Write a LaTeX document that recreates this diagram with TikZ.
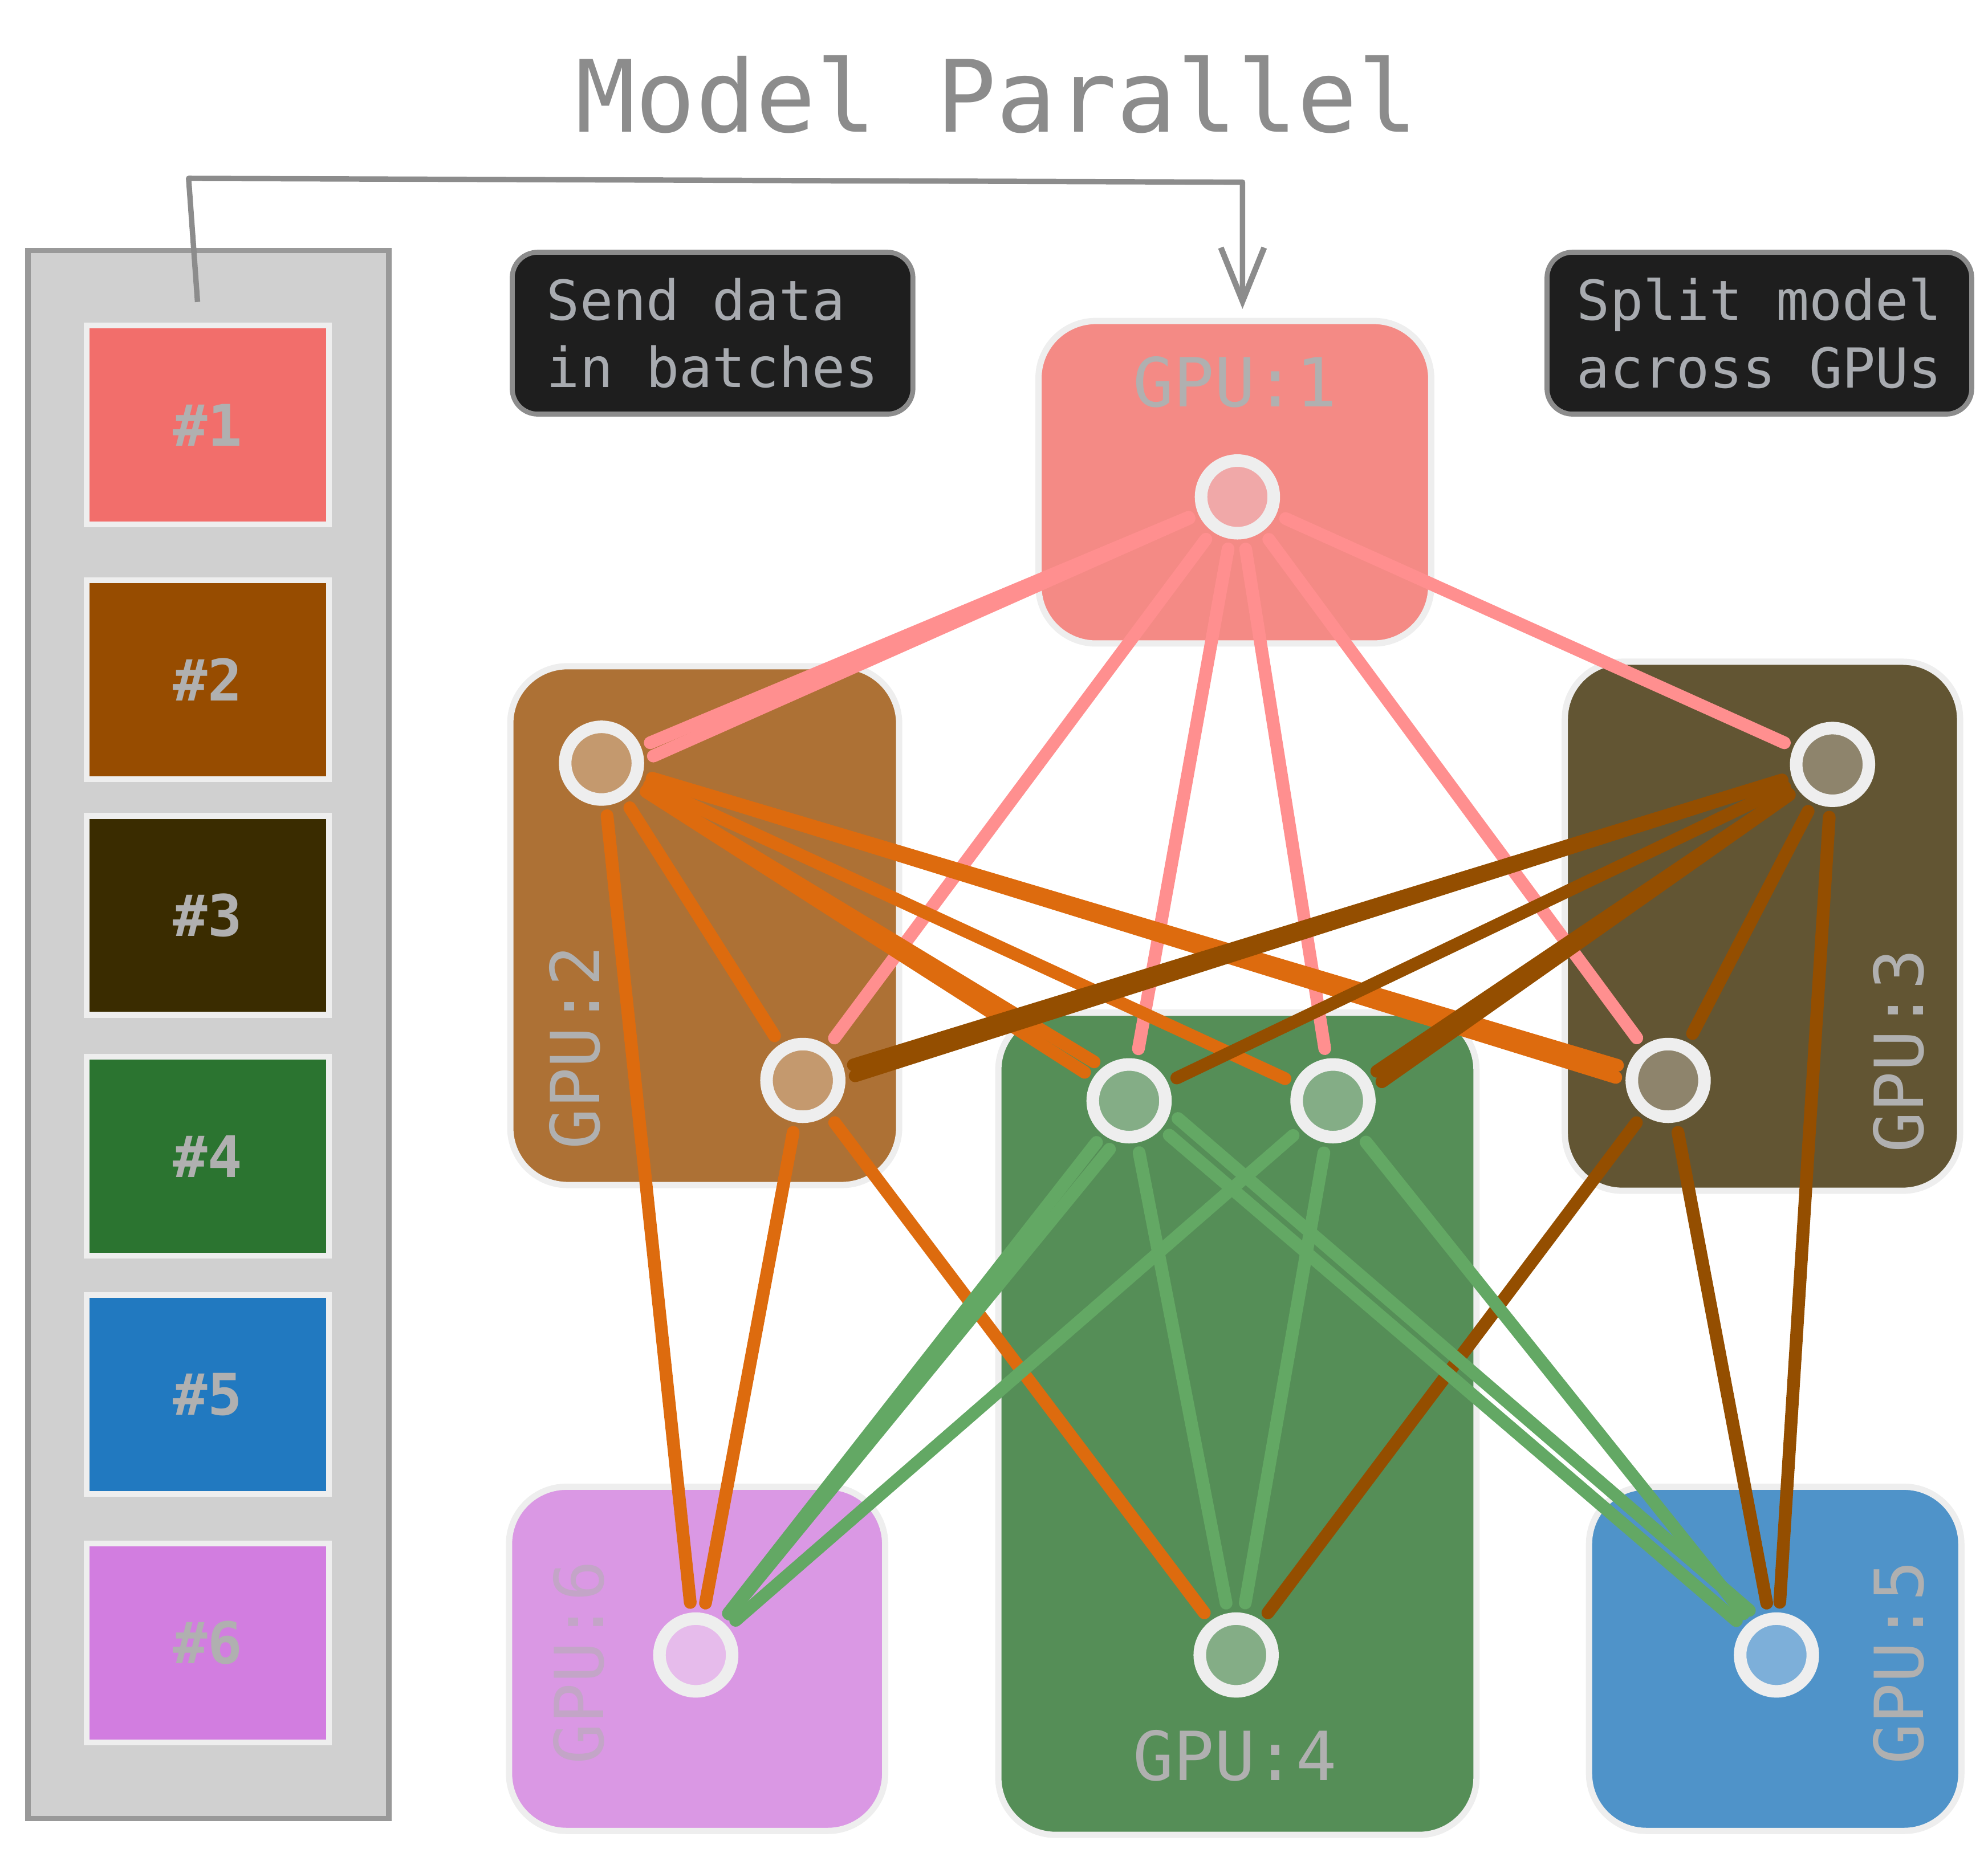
\documentclass[tikz,border=0pt]{standalone}
\usepackage{fontspec}
\setmonofont{DejaVu Sans Mono}
\usetikzlibrary{arrows.meta,calc}
\definecolor{bord}{HTML}{EEEEEE}
\definecolor{gpuA}{HTML}{F48A85}
\definecolor{gpuB}{HTML}{AD7135}
\definecolor{gpuC}{HTML}{625533}
\definecolor{gpuD}{HTML}{558E57}
\definecolor{gpuE}{HTML}{4F93C9}
\definecolor{gpuF}{HTML}{DA98E4}
\definecolor{nA}{HTML}{F0A8A8}
\definecolor{nB}{HTML}{C4996E}
\definecolor{nC}{HTML}{8E846C}
\definecolor{nD}{HTML}{84AD86}
\definecolor{nE}{HTML}{7DAFD9}
\definecolor{nF}{HTML}{E6BBEB}
\definecolor{eA}{HTML}{FF8F8F}
\definecolor{eB}{HTML}{DD6B0E}
\definecolor{eC}{HTML}{944E00}
\definecolor{eD}{HTML}{63A864}
\definecolor{dA}{HTML}{F26E6B}
\definecolor{dB}{HTML}{974C00}
\definecolor{dC}{HTML}{3A2C00}
\definecolor{dD}{HTML}{2B7430}
\definecolor{dE}{HTML}{2179C0}
\definecolor{dF}{HTML}{D27DE0}
\definecolor{titlegray}{HTML}{8C8C8C}
\definecolor{lblgray}{HTML}{B0B0B0}
\definecolor{txtgray}{HTML}{A8ABB0}
\definecolor{boxdark}{HTML}{1E1E1E}
\definecolor{panelfill}{HTML}{D0D0D0}
\definecolor{panelline}{HTML}{999999}
\tikzset{
  gpubox/.style={draw=bord, line width=1.4pt, rounded corners=0.45cm, inner sep=0},
  unit/.style={circle, draw=bord, line width=2.8pt, minimum size=0.57cm, inner sep=0},
  link/.style={line width=0.1cm, line cap=round, shorten <=0.08cm, shorten >=0.08cm},
  gpulbl/.style={font=\ttfamily\fontsize{15.1}{18}\selectfont, text=lblgray, inner sep=0},
  databox/.style={draw=bord, line width=1.3pt, minimum width=1.9cm, minimum height=1.56cm, inner sep=0,
     font=\ttfamily\bfseries\fontsize{12.8}{15}\selectfont, text=lblgray},
  notebox/.style={fill=boxdark, draw=titlegray, line width=1.1pt, rounded corners=0.2cm, anchor=west,
     align=left, inner ysep=0.12cm, minimum height=1.27cm,
     font=\ttfamily\fontsize{12.3}{15.1}\selectfont, text=txtgray}
}
\begin{document}
\begin{tikzpicture}[x=0.01cm, y=-0.01cm]
\useasboundingbox (0,0) rectangle (1560,1454);
% title
\node[font=\ttfamily\fontsize{22.3}{26}\selectfont, text=titlegray, inner sep=0] (title) at (782,74) {Model Parallel};
% data panel
\node[fill=panelfill, draw=panelline, line width=1.2pt, minimum width=2.83cm, minimum height=12.3cm, inner sep=0] (panel) at (163.5,812) {};
\node[databox, fill=dA] (d1) at (163,333.5) {\#1};
\node[databox, fill=dB] (d2) at (163,533.5) {\#2};
\node[databox, fill=dC] (d3) at (163,718.5) {\#3};
\node[databox, fill=dD] (d4) at (163,907.5) {\#4};
\node[databox, fill=dE] (d5) at (163,1094.5) {\#5};
\node[databox, fill=dF] (d6) at (163,1289.5) {\#6};
% notes
\node[notebox, inner xsep=0.27cm] (note1) at (400,261.5) {Send data\\in batches};
\node[notebox, inner xsep=0.234cm] (note2) at (1212,261.5) {Split model\\across GPUs};
% GPU boxes
\node[gpubox, fill=gpuA, minimum width=3.08cm, minimum height=2.53cm] (g1) at (969,378.5) {};
\node[gpubox, fill=gpuB, minimum width=3.05cm, minimum height=4.07cm] (g2) at (553,726.5) {};
\node[gpubox, fill=gpuC, minimum width=3.1cm, minimum height=4.15cm] (g3) at (1383,727) {};
\node[gpubox, fill=gpuD, minimum width=3.75cm, minimum height=6.45cm] (g4) at (971,1117.5) {};
\node[gpubox, fill=gpuE, minimum width=2.92cm, minimum height=2.7cm] (g5) at (1393,1302) {};
\node[gpubox, fill=gpuF, minimum width=2.95cm, minimum height=2.7cm] (g6) at (547,1302) {};
% GPU labels
\node[gpulbl] (l1) at (969,300) {GPU:1};
\node[gpulbl, rotate=90] (l2) at (451,822) {GPU:2};
\node[gpulbl, rotate=90] (l3) at (1490,825) {GPU:3};
\node[gpulbl] (l4) at (969,1378) {GPU:4};
\node[gpulbl, rotate=90] (l5) at (1490,1305) {GPU:5};
\node[gpulbl, rotate=90, text=lblgray!55!gpuF] (l6) at (454,1305) {GPU:6};
% units
\node[unit, fill=nA] (n1) at (971,390) {};
\node[unit, fill=nB] (n2a) at (472,599) {};
\node[unit, fill=nB] (n2b) at (630,848) {};
\node[unit, fill=nC] (n3a) at (1438,600) {};
\node[unit, fill=nC] (n3b) at (1309,848) {};
\node[unit, fill=nD] (n4a) at (886,864) {};
\node[unit, fill=nD] (n4b) at (1046,864) {};
\node[unit, fill=nD] (n4c) at (970,1299) {};
\node[unit, fill=nE] (n5) at (1394,1299) {};
\node[unit, fill=nF] (n6) at (546,1299) {};
% pink links
\foreach \t in {n2a,n2b,n4a,n4b,n3b,n3a} \draw[link, eA] (n1) -- (\t);
\draw[link, eA] (n1) -- (n2a.4);
% orange links
\foreach \t in {n6,n2b,n4a,n4b,n3b} \draw[link, eB] (n2a) -- (\t);
\draw[link, eB] (n2a) -- (n4a.128);
\draw[link, eB] (n2a) -- (n3b.180);
\foreach \t in {n6,n4c} \draw[link, eB] (n2b) -- (\t);
% brown links
\foreach \t in {n2b,n4a,n4b,n3b,n5} \draw[link, eC] (n3a) -- (\t);
\draw[link, eC] (n3a) -- (n2b.2);
\draw[link, eC] (n3a) -- (n4b.18);
\foreach \t in {n4c,n5} \draw[link, eC] (n3b) -- (\t);
% green links
\foreach \t in {n6,n4c,n5} \draw[link, eD] (n4a) -- (\t);
\draw[link, eD] (n4a.252) -- (n6);
\draw[link, eD] (n4a.-15) -- (n5.117);
\foreach \t in {n6,n4c,n5} \draw[link, eD] (n4b) -- (\t);
% arrow
\coordinate (a0) at (155,237);
\coordinate (a1) at (148,140);
\coordinate (a2) at (975,143);
\draw[titlegray, line width=1.2pt, line join=round, -{Straight Barb[length=0.42cm, width=0.34cm, line width=1.3pt]}, shorten >=0.07cm]
  (a0) -- (a1) -- (a2) -- (g1.north -| a2);
\end{tikzpicture}
\end{document}
